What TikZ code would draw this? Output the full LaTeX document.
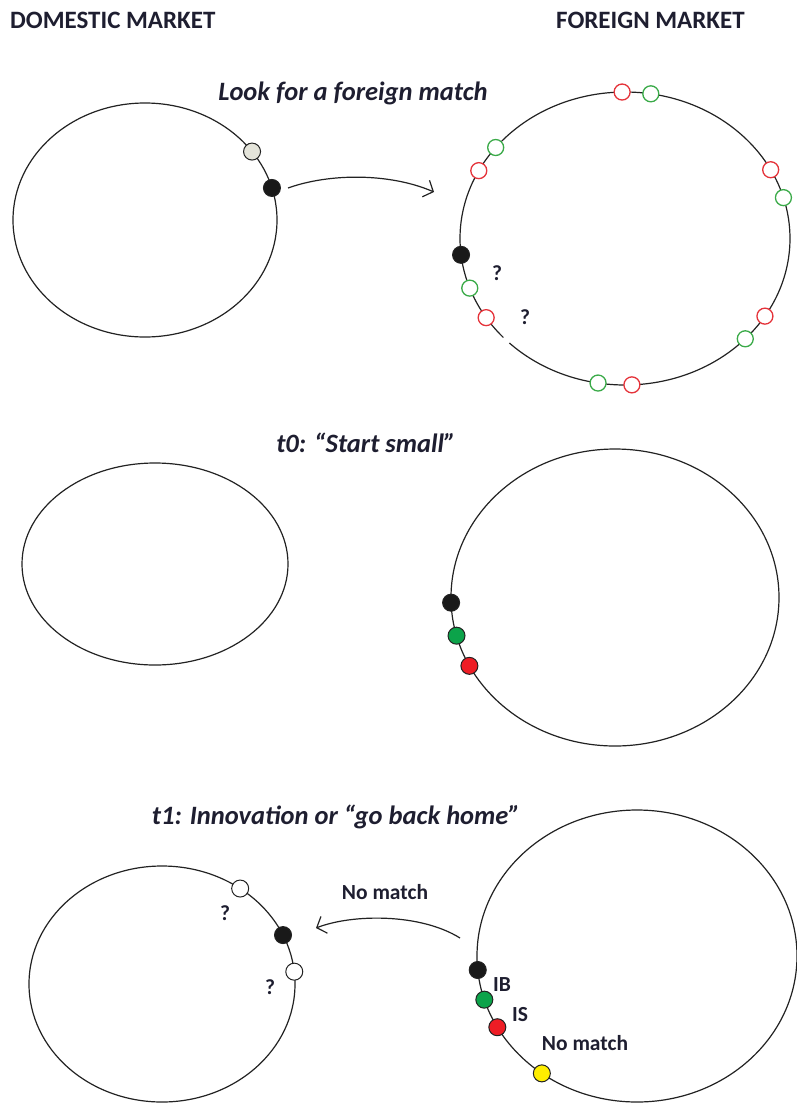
\documentclass[tikz,border=0pt]{standalone}
\usepackage{fontspec}
\setmainfont{Carlito}
\usetikzlibrary{arrows.meta}

\definecolor{ink}{HTML}{1E1E30}
\definecolor{rim}{HTML}{222222}
\definecolor{ringred}{HTML}{E5333A}
\definecolor{ringgreen}{HTML}{3AAA48}
\definecolor{fillgreen}{HTML}{0CA34A}
\definecolor{fillred}{HTML}{EE1D25}
\definecolor{fillyellow}{HTML}{FFEE00}
\definecolor{fillgray}{HTML}{E4E4DA}

\tikzset{
  market/.style={draw=rim, line width=1.2pt},
  dot/.style={circle, draw=rim, line width=1pt, minimum size=17pt, inner sep=0pt, fill=#1},
  ring/.style={circle, draw=#1, line width=1.3pt, minimum size=16pt, inner sep=0pt, fill=white},
  arr/.style={draw=rim, line width=1.2pt, -{Straight Barb[length=8pt,width=18pt]}},
  header/.style={font=\fontsize{25}{30}\selectfont\bfseries, text=ink, inner sep=0pt},
  stage/.style={font=\fontsize{26.5}{31}\selectfont\bfseries\itshape, text=ink, inner sep=0pt},
  lbl/.style={font=\fontsize{21.5}{26}\selectfont\bfseries, text=ink, inner sep=0pt}
}

\begin{document}
\begin{tikzpicture}[x=1pt,y=-1pt]
\useasboundingbox (0,0) rectangle (797,1104);

% column headers
\node[header, anchor=west] (hdom) at (10,20) {DOMESTIC MARKET};
\node[header, anchor=west] (hfor) at (556,20) {FOREIGN MARKET};

% ---------- stage 1: search ----------
\node[stage] (s1) at (353,93) {Look for a foreign match};
\coordinate (E1) at (145,220);
\coordinate (E2) at (625,238.5);
\draw[market] (E1) ellipse [x radius=132pt, y radius=117pt];
\draw[market] (E2) ++({165*cos(225.5)},{-146.5*sin(225.5)})
  arc[start angle=225.5, end angle=582.5, x radius=165pt, y radius=146.5pt];

\path (E1) ++({132*cos(35.8)},{-117*sin(35.8)}) node[dot=fillgray] (a1) {};
\path (E1) ++({132*cos(15.9)},{-117*sin(15.9)}) node[dot=black!90] (a2) {};

\path (E2) ++({165*cos(91)},{-146.5*sin(91)}) node[ring=ringred] (b1) {};
\path (E2) ++({165*cos(81)},{-146.5*sin(81)}) node[ring=ringgreen] (b2) {};
\path (E2) ++({165*cos(141.6)},{-146.5*sin(141.6)}) node[ring=ringgreen] (b3) {};
\path (E2) ++({165*cos(152.4)},{-146.5*sin(152.4)}) node[ring=ringred] (b4) {};
\path (E2) ++({165*cos(28)},{-146.5*sin(28)}) node[ring=ringred] (b5) {};
\path (E2) ++({165*cos(16.2)},{-146.5*sin(16.2)}) node[ring=ringgreen] (b6) {};
\path (E2) ++({165*cos(199.8)},{-146.5*sin(199.8)}) node[ring=ringgreen] (b7) {};
\path (E2) ++({165*cos(212.7)},{-146.5*sin(212.7)}) node[ring=ringred] (b8) {};
\path (E2) ++({165*cos(328)},{-146.5*sin(328)}) node[ring=ringred] (b9) {};
\path (E2) ++({165*cos(316.8)},{-146.5*sin(316.8)}) node[ring=ringgreen] (b10) {};
\path (E2) ++({165*cos(260.6)},{-146.5*sin(260.6)}) node[ring=ringgreen] (b11) {};
\path (E2) ++({165*cos(272.4)},{-146.5*sin(272.4)}) node[ring=ringred] (b12) {};
\path (E2) ++({165*cos(186.4)},{-146.5*sin(186.4)}) node[dot=black!90] (b0) {};

\node[lbl] (q1) at (497,273) {?};
\node[lbl] (q2) at (525,317) {?};

\coordinate (t1a) at (288,188);
\coordinate (t1b) at (434,192);
\draw[arr] (t1a) .. controls (330,173) and (390,173) .. (t1b);

% ---------- stage 2: t0 ----------
\node[stage] (s2) at (366,443) {t0: “Start small”};
\coordinate (E3) at (155,564);
\coordinate (E4) at (615,597.5);
\draw[market] (E3) ellipse [x radius=133pt, y radius=101pt];
\draw[market] (E4) ellipse [x radius=164pt, y radius=148.5pt];

\path (E4) ++({164*cos(182)},{-148.5*sin(182)}) node[dot=black!90] (c1) {};
\path (E4) ++({164*cos(194.9)},{-148.5*sin(194.9)}) node[dot=fillgreen] (c2) {};
\path (E4) ++({164*cos(207.4)},{-148.5*sin(207.4)}) node[dot=fillred] (c3) {};

% ---------- stage 3: t1 ----------
\node[stage] (s3) at (336,817) {t1: Innovation or “go back home”};
\coordinate (E5) at (162,984);
\coordinate (E6) at (637,956);
\draw[market] (E5) ellipse [x radius=133pt, y radius=118pt];
\draw[market] (E6) ellipse [x radius=160pt, y radius=146pt];

\path (E5) ++({133*cos(54)},{-118*sin(54)}) node[dot=white] (d1) {};
\path (E5) ++({133*cos(24.5)},{-118*sin(24.5)}) node[dot=black!90] (d2) {};
\path (E5) ++({133*cos(6)},{-118*sin(6)}) node[dot=white] (d3) {};
\node[lbl] (q3) at (225,913) {?};
\node[lbl] (q4) at (270,987) {?};

\path (E6) ++({160*cos(185.5)},{-146*sin(185.5)}) node[dot=black!90] (e1) {};
\path (E6) ++({160*cos(197.4)},{-146*sin(197.4)}) node[dot=fillgreen] (e2) {};
\path (E6) ++({160*cos(209.2)},{-146*sin(209.2)}) node[dot=fillred] (e3) {};
\path (E6) ++({160*cos(233.5)},{-146*sin(233.5)}) node[dot=fillyellow] (e4) {};
\node[lbl] (ib) at (502,985) {IB};
\node[lbl] (is) at (520,1015) {IS};
\node[lbl] (nm2) at (585,1043) {No match};

\coordinate (t3a) at (460,938);
\coordinate (t3b) at (316,928);
\draw[arr] (t3a) .. controls (420,913) and (352,914) .. (t3b);
\node[lbl] (nm1) at (385,892) {No match};
\end{tikzpicture}
\end{document}
